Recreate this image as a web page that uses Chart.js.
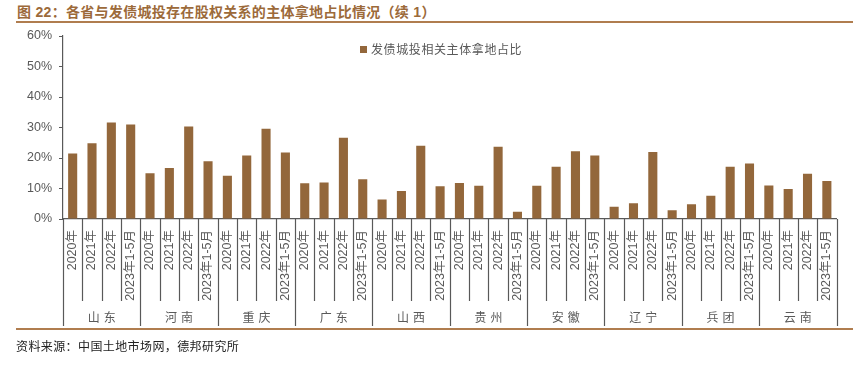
<!DOCTYPE html>
<html lang="zh">
<head>
<meta charset="UTF-8">
<title>各省与发债城投存在股权关系的主体拿地占比情况</title>
<script src="https://cdn.jsdelivr.net/npm/chart.js@4"></script>
<style>
  body { margin: 0; background: #fff; }
  #wrap { position: relative; width: 853px; height: 367px; overflow: hidden; font-family: "Liberation Sans", "Noto Sans CJK SC", sans-serif; }
  #title { position: absolute; left: 17px; top: 1px; font-size: 14px; font-weight: bold; color: #9c6a3a; letter-spacing: 0.3px; white-space: nowrap; }
  .rule { position: absolute; left: 16px; right: 0; height: 2px; background: #b07d4f; }
  #source { position: absolute; left: 16px; top: 337px; font-size: 12px; color: #222; letter-spacing: 0.4px; font-family: "Noto Sans CJK SC", sans-serif; }
  #legend { position: absolute; left: 360px; top: 40px; font-size: 12px; color: #595959; letter-spacing: 0.6px; font-family: "Noto Sans CJK SC", sans-serif; white-space: nowrap; }
  #legend span { display: inline-block; width: 7px; height: 7px; background: #93673b; margin-right: 4px; vertical-align: 1px; }
  canvas { position: absolute; left: 0; top: 0; }
</style>
</head>
<body>
<div id="wrap">
  <div id="title">图 22：各省与发债城投存在股权关系的主体拿地占比情况（续 1）</div>
  <div class="rule" style="top:21px"></div>
  <canvas id="myChart" width="853" height="367"></canvas>
  <div id="legend"><span></span>发债城投相关主体拿地占比</div>
  <div class="rule" style="top:328px"></div>
  <div id="source">资料来源：中国土地市场网，德邦研究所</div>
</div>
<script>
// provinces and periods
var provinces = ['山东', '河南', '重庆', '广东', '山西', '贵州', '安徽', '辽宁', '兵团', '云南'];
var periods = ['2020年', '2021年', '2022年', '2023年1-5月'];

// share of land bought by entities related to bond-issuing LGFVs (%)
var shandong  = [21.5, 24.8, 31.6, 31.0];
var henan     = [15.0, 16.7, 30.3, 18.9];
var chongqing = [14.2, 20.8, 29.6, 21.8];
var guangdong = [11.7, 12.0, 26.6, 13.0];
var shanxi    = [6.4, 9.2, 24.0, 10.7];
var guizhou   = [11.8, 10.9, 23.7, 2.4];
var anhui     = [10.9, 17.1, 22.2, 20.8];
var liaoning  = [4.0, 5.2, 22.0, 2.9];
var bingtuan  = [4.8, 7.6, 17.1, 18.2];
var yunnan    = [11.0, 9.8, 14.8, 12.5];

var yTicks = [0, 10, 20, 30, 40, 50, 60];

var groups = [shandong, henan, chongqing, guangdong, shanxi, guizhou, anhui, liaoning, bingtuan, yunnan];
var labels = [];
var values = [];
groups.forEach(function (g) {
  g.forEach(function (v, j) {
    labels.push(periods[j]);
    values.push(v);
  });
});

var axisColor = '#595959';

// draws the category separators and the province row under the axis
var groupAxis = {
  id: 'groupAxis',
  afterDraw: function (chart) {
    var ctx = chart.ctx;
    var x = chart.scales.x;
    var n = labels.length;
    var step = x.width / n;
    var base = x.top;
    ctx.save();
    ctx.strokeStyle = axisColor;
    ctx.lineWidth = 1.2;
    for (var i = 0; i <= n; i++) {
      var px = Math.round(x.left + i * step) + 0.5;
      ctx.beginPath();
      ctx.moveTo(px, base);
      ctx.lineTo(px, i % periods.length === 0 ? base + 107 : base + 82);
      ctx.stroke();
    }
    ctx.fillStyle = axisColor;
    ctx.font = '12px "Noto Sans CJK SC", sans-serif';
    ctx.letterSpacing = '4px';
    ctx.textAlign = 'center';
    ctx.textBaseline = 'middle';
    provinces.forEach(function (p, k) {
      var cx = x.left + (k * periods.length + periods.length / 2) * step;
      ctx.fillText(p, cx + 2, base + 98);
    });
    ctx.restore();
  }
};

var ctx = document.getElementById('myChart').getContext('2d');
var myChart = new Chart(ctx, {
  type: 'bar',
  data: {
    labels: labels,
    datasets: [{
      label: '发债城投相关主体拿地占比',
      data: values,
      backgroundColor: '#93673b',
      barPercentage: 0.47,
      categoryPercentage: 1
    }]
  },
  options: {
    responsive: false,
    animation: false,
    layout: { padding: { left: 0, right: 11, top: 36, bottom: 0 } },
    plugins: {
      legend: { display: false },
      tooltip: { enabled: false }
    },
    scales: {
      x: {
        grid: { display: false, drawTicks: false },
        border: { display: true, color: axisColor, width: 1.2 },
        ticks: {
          autoSkip: false,
          minRotation: 90,
          maxRotation: 90,
          padding: 11,
          color: axisColor,
          font: { size: 12.5, family: '"Liberation Sans", "Noto Sans CJK SC", sans-serif' }
        },
        afterFit: function (scale) { scale.height = 148; }
      },
      y: {
        min: 0,
        max: 60,
        afterBuildTicks: function (scale) {
          scale.ticks = yTicks.map(function (v) { return { value: v }; });
        },
        grid: { drawOnChartArea: false, tickLength: 4, color: axisColor },
        border: { display: true, color: axisColor, width: 1.2 },
        ticks: {
          padding: 7,
          color: axisColor,
          font: { size: 12.5, family: '"Liberation Sans", sans-serif' },
          callback: function (v) { return v + '%'; }
        },
        afterFit: function (scale) { scale.width = 63; }
      }
    }
  },
  plugins: [groupAxis]
});
</script>
</body>
</html>
